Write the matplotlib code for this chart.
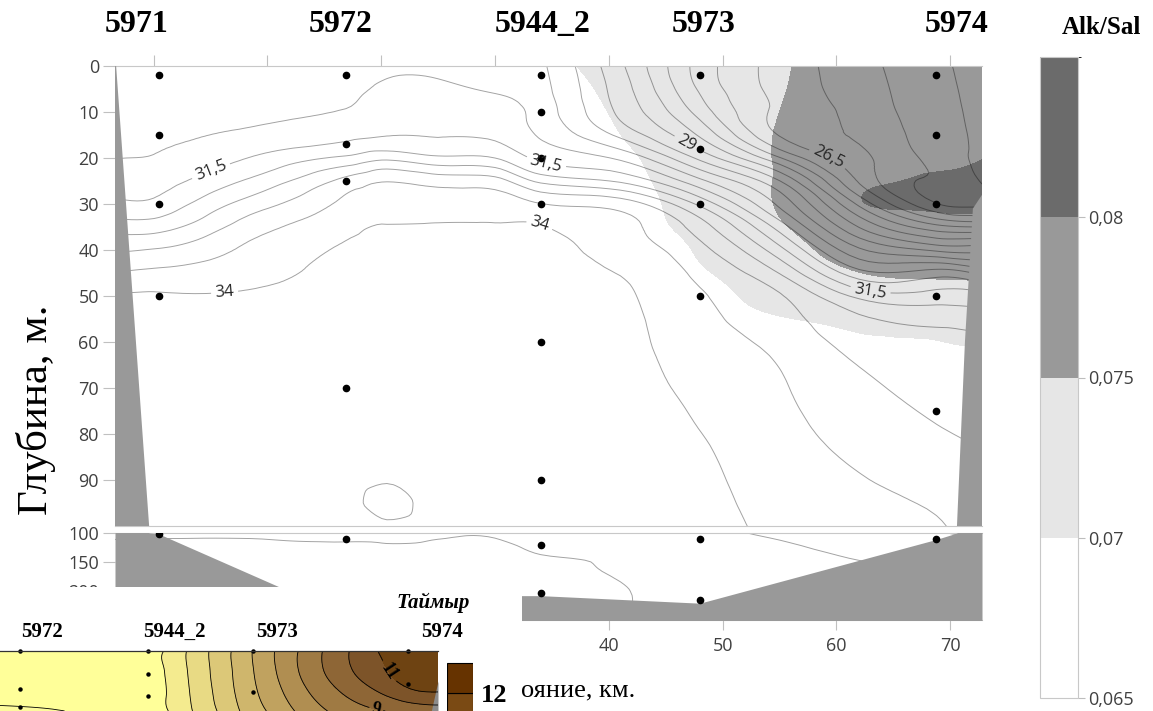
import numpy as np
import matplotlib.pyplot as plt
import matplotlib.tri as mtri
from matplotlib.colors import ListedColormap, BoundaryNorm
from matplotlib.cm import ScalarMappable
from matplotlib.transforms import blended_transform_factory

plt.rcParams['font.family'] = ['Open Sans', 'DejaVu Sans']
SERIF = ['Liberation Serif', 'DejaVu Serif']

W, H = 1153, 711

# stations along the section
station_names = ['5971', '5972', '5944_2', '5973', '5974']
station_km = [0.5, 16.9, 34.0, 48.0, 68.8]
name_km = [-1.5, 16.4, 34.2, 48.3, 70.6]
sample_depth = [
    [2, 15, 30, 50, 102],
    [2, 17, 25, 70, 111],
    [2, 10, 20, 30, 60, 90, 121, 204],
    [2, 18, 30, 50, 111, 216],
    [2, 15, 30, 50, 75, 111],
]

# bottom profile
bathy_km = [-3.4, -3.3, -0.4, 0.5, 13.6, 17.7, 25.0, 32.2, 34.0, 48.0, 68.8, 70.6, 71.3, 72.0, 72.8]
bathy_depth = [0, 0, 100, 102, 215, 250, 235, 208, 208, 221, 111, 100, 60, 31, 28]

# salinity (one profile per column of sal_km, values at sal_depth)
sal_km = [-3.4, 0.5, 8.5, 16.9, 20.5, 25, 30, 34, 41, 48, 55, 62, 68.8, 72.8]
sal_depth = [0, 5, 10, 15, 20, 25, 30, 35, 40, 45, 50, 55, 60, 70, 80, 90, 95, 100, 125, 150, 175, 200, 250]
sal_profiles = [
    [30.6, 30.7, 30.8, 30.9, 30.99, 31.27, 31.62, 32.27, 32.95, 33.52, 34.05, 34.15, 34.2, 34.28, 34.33, 34.37, 34.4, 34.42, 34.6, 34.62, 34.62, 34.62, 34.62],
    [30.65, 30.75, 30.85, 30.93, 31.04, 31.3, 31.66, 32.31, 33.05, 33.62, 34.05, 34.15, 34.2, 34.28, 34.33, 34.37, 34.4, 34.43, 34.6, 34.62, 34.62, 34.62, 34.62],
    [30.7, 30.8, 30.88, 31.09, 31.52, 32.09, 32.72, 33.26, 33.62, 33.85, 34.05, 34.15, 34.22, 34.3, 34.35, 34.4, 34.42, 34.44, 34.6, 34.62, 34.62, 34.62, 34.62],
    [30.8, 30.88, 31.03, 31.36, 32.1, 33.17, 33.64, 33.88, 34.07, 34.15, 34.2, 34.24, 34.27, 34.32, 34.38, 34.43, 34.46, 34.45, 34.6, 34.62, 34.62, 34.62, 34.62],
    [30.88, 31.1, 31.29, 31.48, 32.38, 33.48, 33.76, 34.03, 34.12, 34.18, 34.22, 34.26, 34.3, 34.35, 34.4, 34.48, 34.56, 34.47, 34.6, 34.62, 34.62, 34.62, 34.62],
    [30.88, 31.1, 31.3, 31.48, 32.1, 33.3, 33.76, 34.05, 34.12, 34.18, 34.22, 34.26, 34.3, 34.35, 34.4, 34.44, 34.45, 34.46, 34.6, 34.62, 34.62, 34.62, 34.62],
    [30.82, 30.95, 31.18, 31.41, 32.0, 33.2, 33.74, 34.05, 34.12, 34.18, 34.22, 34.26, 34.3, 34.35, 34.4, 34.44, 34.45, 34.46, 34.58, 34.6, 34.6, 34.6, 34.6],
    [30.6, 30.68, 30.8, 30.94, 31.38, 32.38, 33.52, 34.04, 34.1, 34.15, 34.18, 34.2, 34.22, 34.26, 34.3, 34.33, 34.35, 34.37, 34.45, 34.55, 34.58, 34.58, 34.58],
    [29.1, 29.25, 29.4, 29.88, 30.9, 31.92, 33.28, 33.63, 33.8, 33.98, 34.08, 34.12, 34.15, 34.2, 34.24, 34.27, 34.28, 34.3, 34.4, 34.45, 34.48, 34.52, 34.52],
    [27.3, 27.43, 27.8, 28.43, 29.38, 30.63, 31.88, 32.75, 33.15, 33.4, 33.55, 33.63, 33.7, 33.86, 34.01, 34.1, 34.13, 34.15, 34.2, 34.25, 34.3, 34.35, 34.35],
    [26.3, 26.33, 26.38, 26.47, 27.55, 29.02, 29.89, 30.79, 31.67, 32.48, 33.05, 33.2, 33.35, 33.55, 33.65, 33.75, 33.8, 33.86, 34.1, 34.2, 34.25, 34.28, 34.28],
    [25.7, 25.75, 25.83, 25.92, 26.14, 26.44, 27.39, 28.48, 29.59, 30.68, 31.86, 32.59, 32.82, 33.13, 33.35, 33.52, 33.57, 33.61, 33.82, 34.02, 34.1, 34.12, 34.12],
    [25.1, 25.15, 25.2, 25.25, 25.32, 25.4, 25.53, 27.18, 28.9, 30.75, 31.71, 32.38, 32.59, 32.82, 33.05, 33.32, 33.45, 33.53, 33.8, 33.95, 34.0, 34.0, 34.0],
    [24.8, 24.82, 24.84, 24.88, 24.92, 24.96, 25.38, 27.0, 28.83, 30.33, 31.67, 32.3, 32.56, 32.75, 32.94, 33.13, 33.22, 33.32, 33.7, 33.9, 34.0, 34.0, 34.0],
]
sal_labels = [26.5, 29, 31.5, 34]
sal_label_at = [(59.0, 21.5), (46.2, 19.3), (5.1, 23.3), (34.5, 21.0),
                (63.0, 48.7), (6.2, 47.8), (33.9, 34.6)]

# Alk/Sal (rows = alk_depth, columns = alk_km)
alk_km = [34, 38, 41, 44, 47, 50, 53, 56, 59, 62, 65, 68.8, 72.8]
alk_depth = [0, 10, 20, 25, 30, 35, 40, 45, 50, 55, 60, 65, 100]
alk_sal = [
    [0.068, 0.07035, 0.0711, 0.0719, 0.0726, 0.0734, 0.0742, 0.07497, 0.0758, 0.0765, 0.0772, 0.0778, 0.0782],
    [0.067, 0.069, 0.0705, 0.0715, 0.0724, 0.0734, 0.0744, 0.0753, 0.0762, 0.0768, 0.0773, 0.0777, 0.0782],
    [0.066, 0.068, 0.0694, 0.0704, 0.0716, 0.0729, 0.0744, 0.0756, 0.0766, 0.0775, 0.0781, 0.0785, 0.0799],
    [0.065, 0.0675, 0.0688, 0.0701, 0.0714, 0.0727, 0.0744, 0.0756, 0.0772, 0.079, 0.0798, 0.081, 0.0815],
    [0.064, 0.0665, 0.0682, 0.0697, 0.071, 0.0723, 0.0742, 0.0757, 0.0775, 0.0797, 0.0805, 0.081, 0.0815],
    [0.063, 0.0655, 0.0675, 0.0694, 0.0705, 0.0718, 0.0734, 0.0751, 0.0765, 0.0775, 0.0778, 0.078, 0.0778],
    [0.062, 0.0645, 0.0665, 0.0685, 0.0699, 0.0711, 0.0725, 0.0738, 0.0755, 0.0765, 0.077, 0.0772, 0.0772],
    [0.061, 0.063, 0.065, 0.067, 0.0688, 0.0705, 0.0718, 0.0728, 0.0738, 0.0749, 0.0757, 0.076, 0.076],
    [0.060, 0.062, 0.0635, 0.065, 0.0665, 0.0688, 0.0711, 0.0718, 0.0722, 0.0725, 0.0728, 0.0725, 0.0725],
    [0.059, 0.0605, 0.062, 0.0635, 0.065, 0.0665, 0.0685, 0.0699, 0.0706, 0.0712, 0.0716, 0.0718, 0.0718],
    [0.058, 0.059, 0.060, 0.061, 0.062, 0.063, 0.0645, 0.066, 0.0675, 0.0688, 0.0694, 0.0698, 0.0702],
    [0.057, 0.058, 0.059, 0.060, 0.061, 0.062, 0.063, 0.064, 0.065, 0.066, 0.067, 0.068, 0.0695],
    [0.060, 0.060, 0.060, 0.060, 0.060, 0.060, 0.060, 0.060, 0.060, 0.060, 0.060, 0.060, 0.060],
]
alk_bounds = [0.065, 0.07, 0.075, 0.08, 0.085]
alk_colors = ['#ffffff', '#e6e6e6', '#999999', '#6b6b6b']
alk_ticklabels = ['0,065', '0,07', '0,075', '0,08']

km_ticks = [0, 10, 20, 30, 40, 50, 60, 70]
km_ticklabels = ['', '', '', '', '40', '50', '60', '70']  # 0-30 lie under the pasted fragment
top_depth_ticks = [0, 10, 20, 30, 40, 50, 60, 70, 80, 90]
bot_depth_ticks = [100, 150, 200]

# pasted fragment of the neighbouring figure (Таймыр)
frag_names = ['5972', '5944_2', '5973', '5974']
frag_name_km = [19.8, 37.5, 51.3, 73.3]
frag_station_km = [16.9, 34.0, 48.0, 68.8]
frag_sample_depth = [[0, 15.2, 22.4], [0, 9.2, 18], [0, 16.4], [0, 13.2]]
frag_km = [14.2, 20, 30, 36, 39, 42, 45, 48, 51, 54, 57, 61, 65, 68.8, 72.8]
frag_depth = [0, 8, 16, 24]
frag_values = [
    [1.6, 1.7, 1.8, 1.98, 2.95, 3.95, 4.95, 6.02, 7.02, 7.97, 8.9, 10.02, 11.05, 11.5, 11.8],
    [1.6, 1.7, 1.8, 1.95, 2.9, 3.9, 4.9, 5.95, 6.95, 7.95, 8.85, 9.9, 10.8, 11.3, 11.5],
    [1.5, 1.6, 1.75, 1.9, 2.8, 3.8, 4.8, 5.8, 6.7, 7.6, 8.4, 9.3, 10.1, 10.85, 11.05],
    [0.8, 0.9, 1.4, 1.85, 2.7, 3.6, 4.6, 5.5, 6.3, 7.1, 7.8, 8.5, 8.95, 9.2, 9.4],
]
frag_levels = [0, 1, 2, 3, 4, 5, 6, 7, 8, 9, 10, 11, 12, 13]
frag_colors = ['#fdfb9c', '#ffff99', '#f4eb8f', '#e8da84', '#dcc878', '#cfb66c', '#c0a25f',
               '#b08e51', '#9f7a43', '#8e6636', '#7d5429', '#6e4312', '#663300']
frag_labels = [9, 11]
frag_label_at = [(65.4, 9.6), (64.6, 22.4)]
frag_bathy_km = [71.9, 72.8]
frag_bathy_depth = [24, 12]
frag_cbar_bounds = [11, 12, 13]
frag_cbar_colors = ['#7a4a14', '#663300']


def comma(v):
    return f'{v:g}'.replace('.', ',')


def smooth_field(xs, ys, table, kind='min_E'):
    # triangulate the grid cells and let matplotlib refine them with a smooth interpolator
    nx, ny = len(xs), len(ys)
    gx, gy = np.meshgrid(xs, ys)
    idx = np.arange(nx * ny).reshape(ny, nx)
    a, b = idx[:-1, :-1].ravel(), idx[:-1, 1:].ravel()
    c, d = idx[1:, 1:].ravel(), idx[1:, :-1].ravel()
    tris = np.concatenate([np.stack([a, b, c], 1), np.stack([a, c, d], 1)])
    tri = mtri.Triangulation(gx.ravel(), gy.ravel(), tris)
    z = np.asarray(table, dtype=float).ravel()
    interp = mtri.CubicTriInterpolator(tri, z, kind=kind)
    return mtri.UniformTriRefiner(tri).refine_field(z, triinterpolator=interp, subdiv=3)


fig = plt.figure(figsize=(W / 100, H / 100), dpi=100)
ax_top = fig.add_axes([115 / W, (H - 526) / H, 867 / W, 460 / H])
ax_bot = fig.add_axes([115 / W, (H - 620) / H, 867 / W, 87 / H])

sal_tri, sal_z = smooth_field(sal_km, sal_depth, np.array(sal_profiles).T)
alk_tri, alk_z = smooth_field(alk_km, alk_depth, alk_sal)
plain_levels = [lv for lv in np.arange(25, 35, 0.5) if lv not in sal_labels]
line_style = dict(colors='black', linewidths=0.7, alpha=0.36, zorder=2)

cs_top = None
for ax, ylim in ((ax_top, (100, 0)), (ax_bot, (250, 100))):
    ax.set_xlim(-3.4, 72.8)
    ax.set_ylim(*ylim)
    ax.tricontourf(alk_tri, alk_z, levels=alk_bounds[1:], colors=alk_colors[1:], zorder=1)
    ax.tricontour(sal_tri, sal_z, levels=plain_levels, **line_style)
    cs = ax.tricontour(sal_tri, sal_z, levels=sal_labels, **line_style)
    if ax is ax_top:
        cs_top = cs
    ax.fill_between(bathy_km, bathy_depth, 260, color='#999999', lw=0, zorder=3)
    for km, depths in zip(station_km, sample_depth):
        ax.plot([km] * len(depths), depths, 'o', color='black', ms=4.5, zorder=4)
    for side in ('left', 'right'):
        ax.spines[side].set_visible(False)
    for side in ('top', 'bottom'):
        ax.spines[side].set_color('#c8c8c8')
    ax.set_xticks(km_ticks)
    ax.tick_params(color='#c0c0c0', labelcolor='#404040', labelsize=13)
    ax.tick_params(axis='y', length=8.6, pad=3)

labels = ax_top.clabel(cs_top, manual=sal_label_at, fmt=comma,
                       fontsize=12, inline=True, inline_spacing=4)
for t in labels:
    t.set_alpha(1)
    t.set_color('#262626')

ax_top.set_yticks(top_depth_ticks)
ax_top.tick_params(axis='x', top=True, bottom=False, labeltop=False,
                   labelbottom=False, length=8)
ax_bot.set_yticks(bot_depth_ticks)
ax_bot.set_xticklabels(km_ticklabels)
ax_bot.tick_params(axis='x', top=False, bottom=True, length=7, pad=5)

# station names above the section
tr = blended_transform_factory(ax_top.transData, fig.transFigure)
for name, km in zip(station_names, name_km):
    ax_top.text(km, (H - 25) / H, name, transform=tr, ha='center', va='center',
                fontsize=23, fontweight='bold', family=SERIF)

fig.text(36 / W, (H - 410) / H, 'Глубина, м.', rotation=90, ha='center', va='center',
         fontsize=31, family=SERIF)
fig.text(548 / W, (H - 690) / H, 'Расстояние, км.', ha='center', va='center',
         fontsize=19, family=SERIF, zorder=1)

# Alk/Sal colour bar
cax = fig.add_axes([1040 / W, (H - 698) / H, 38 / W, 641 / H])
cmap = ListedColormap(alk_colors)
norm = BoundaryNorm(alk_bounds, cmap.N)
cb = fig.colorbar(ScalarMappable(norm=norm, cmap=cmap), cax=cax, ticks=alk_bounds[:-1])
cb.ax.set_yticklabels(alk_ticklabels)
cb.outline.set_edgecolor('#c8c8c8')
cb.ax.tick_params(length=5, color='#bdbdbd', labelsize=13, labelcolor='#404040', pad=2)
fig.text(1062 / W, (H - 27) / H, 'Alk/Sal', ha='left', va='center', fontsize=18,
         fontweight='bold', family=SERIF)

# pasted fragment in the lower left corner
ov = fig.add_axes([0, 0, 522 / W, 124 / H], zorder=10)
ov.set_facecolor('white')
ov.set_xticks([])
ov.set_yticks([])
for s in ov.spines.values():
    s.set_visible(False)
ov.text(470 / W, (H - 603) / H, 'Таймыр', transform=fig.transFigure, ha='right',
        va='center', fontsize=15, fontweight='bold', style='italic', family=SERIF)

fx = fig.add_axes([0, 0, 438 / W, 60 / H], zorder=11)
fx.set_xlim(14.2, 72.8)
fx.set_ylim(24, 0)
frag_tri, frag_z = smooth_field(frag_km, frag_depth, frag_values)
fx.tricontourf(frag_tri, frag_z, levels=frag_levels, colors=frag_colors)
fx.tricontour(frag_tri, frag_z,
              levels=[lv for lv in frag_levels[1:-1] if lv not in frag_labels],
              colors='black', linewidths=0.6)
fc = fx.tricontour(frag_tri, frag_z, levels=frag_labels, colors='black', linewidths=0.6)
flabels = fx.clabel(fc, manual=frag_label_at, fmt='%d', fontsize=13,
                    inline=True, inline_spacing=2)
for t in flabels:
    t.set_fontweight('bold')
    t.set_family(SERIF)
fx.fill_between(frag_bathy_km, frag_bathy_depth, 30, color='#8c8c8c', lw=0)
for km, depths in zip(frag_station_km, frag_sample_depth):
    fx.plot([km] * len(depths), depths, 'o', color='black', ms=2.2, clip_on=False)
fx.set_xticks([])
fx.set_yticks([])
for side in ('left', 'right', 'bottom'):
    fx.spines[side].set_visible(False)
fx.spines['top'].set_color('#333333')
fx.spines['top'].set_linewidth(0.9)

ftr = blended_transform_factory(fx.transData, fig.transFigure)
for name, km in zip(frag_names, frag_name_km):
    ov.text(km, (H - 632) / H, name, transform=ftr, ha='center', va='center',
            fontsize=15, fontweight='bold', family=SERIF)

fcb = fig.add_axes([447 / W, 0, 26 / W, 49 / H], zorder=11)
fcb.bar([0, 0], [1, 1], bottom=frag_cbar_bounds[:-1], width=1, color=frag_cbar_colors,
        edgecolor='black', linewidth=0.8)
fcb.set_xlim(-0.5, 0.5)
fcb.set_ylim(11.4, 13.03)
fcb.set_xticks([])
fcb.yaxis.tick_right()
fcb.set_yticks([12])
fcb.set_yticklabels(['12'], fontsize=19, fontweight='bold', family=SERIF)
fcb.tick_params(axis='y', length=0, pad=6)
for s in fcb.spines.values():
    s.set_visible(False)

fig.savefig('out.png', dpi=100)
